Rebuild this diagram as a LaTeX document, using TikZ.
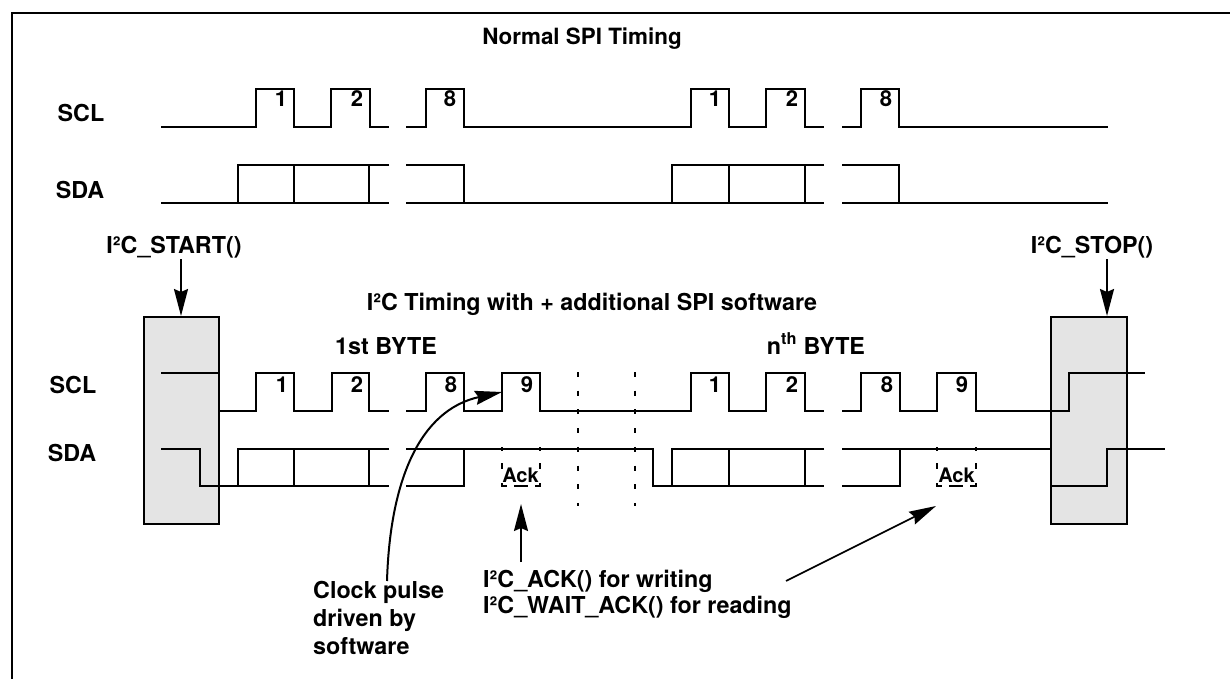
\documentclass[tikz,border=0pt]{standalone}
\usepackage{fontspec}
\setmainfont{TeX Gyre Heros}
\usetikzlibrary{arrows.meta}
\definecolor{boxgray}{HTML}{E4E4E4}
\tikzset{
  sig/.style={line width=2pt,line join=miter,line cap=butt},
  tick/.style={line width=2pt,line cap=square},
  frameline/.style={line width=2.4pt,line join=miter},
  dashv/.style={line width=2pt,dash pattern=on 5pt off 13.7pt},
  ackv/.style={line width=2pt,dash pattern=on 4pt off 12pt on 6pt off 14pt on 4pt},
  ackh/.style={line width=2pt,dash pattern=on 5pt off 7pt on 14pt off 7pt on 5pt},
  gbox/.style={draw,fill=boxgray,line width=2pt,inner sep=0pt,minimum width=75pt,minimum height=207pt,anchor=north west},
  arr/.style={line width=2pt,-{Stealth[length=27pt,width=14pt,inset=3pt]}},
  lab/.style={font=\fontsize{23.3}{27}\selectfont\bfseries,inner sep=0pt,anchor=base},
  labl/.style={lab,anchor=base west},
  dig/.style={font=\fontsize{22}{25}\selectfont\bfseries,inner sep=0pt,anchor=base},
  acklab/.style={font=\fontsize{20}{23}\selectfont\bfseries,inner sep=0pt,anchor=base},
}
\begin{document}
\begin{tikzpicture}[x=1pt,y=-1pt]
\useasboundingbox (0,0) rectangle (1230,679);
\fill[white] (0,0) rectangle (1230,679);
% frame
\coordinate (fr) at (1230,13); \coordinate (fc) at (12,13); \coordinate (fb) at (12,679);
\draw[frameline] (fr) -- (fc) -- (fb);
% grey boxes
\node[gbox] (startbox) at (143,316) {};
\node[gbox,minimum width=76pt] (stopbox) at (1050,316) {};
% titles and labels
\node[lab,font=\fontsize{22.4}{26}\selectfont\bfseries] (t1) at (582,44.5) {Normal SPI Timing};
\node[lab] (sclA) at (81,121.5) {SCL};
\node[lab] (sdaA) at (80,198) {SDA};
\node[lab] (start) at (174,253) {I²C\_START()};
\node[lab] (stop) at (1092,253) {I²C\_STOP()};
\node[lab] (t2) at (592,310.5) {I²C Timing with + additional SPI software};
\node[lab] (b1) at (386,354) {1st BYTE};
\node[lab] (bn) at (816,354) {n\textsuperscript{th} BYTE};
\node[lab] (sclB) at (73,393) {SCL};
\node[lab] (sdaB) at (72,461.5) {SDA};
\node[labl] (ackl) at (483,587.7) {I²C\_ACK() for writing};
\node[labl] (waitl) at (483,613.3) {I²C\_WAIT\_ACK() for reading};
\node[labl] (c1) at (313,598) {Clock pulse};
\node[labl] (c2) at (313,626) {driven by};
\node[labl] (c3) at (313,654) {software};
% digits, top
\foreach \n/\x/\t in {a1/281/1,a2/357/2,a3/450/8,a4/715/1,a5/792/2,a6/886/8}
  \node[dig] (\n) at (\x,107) {\t};
% digits, bottom
\foreach \n/\x/\t in {d1/282/1,d2/357/2,d3/451/8,d4/527/9,d5/715/1,d6/792/2,d7/887/8,d8/962/9}
  \node[dig] (\n) at (\x,392) {\t};
\node[acklab] (ack1) at (520.5,482.5) {Ack};
\node[acklab] (ack2) at (956.5,482.5) {Ack};
% top SCL
\draw[sig] (161,127) -- (256,127) -- (256,89) -- (294,89) -- (294,127) -- (331,127) -- (331,89) -- (370,89) -- (370,127) -- (389,127);
\draw[sig] (406,127) -- (426,127) -- (426,89) -- (464,89) -- (464,127) -- (691,127) -- (691,89) -- (729,89) -- (729,127) -- (766,127) -- (766,89) -- (805,89) -- (805,127) -- (824,127);
\draw[sig] (842,127) -- (861,127) -- (861,89) -- (899,89) -- (899,127) -- (1108,127);
% top SDA
\draw[sig] (161,203) -- (389,203);
\draw[sig] (389,165) -- (238,165) -- (238,203);
\draw[sig] (406,203) -- (824,203);
\draw[sig] (406,165) -- (464,165) -- (464,203);
\draw[sig] (824,165) -- (672,165) -- (672,203);
\draw[sig] (842,203) -- (1108,203);
\draw[sig] (842,165) -- (899,165) -- (899,203);
\foreach \x in {294,369,729,805} \draw[sig] (\x,165) -- (\x,203);
% bottom SCL
\draw[sig] (161,373) -- (219,373);
\draw[sig] (218,411) -- (256,411) -- (256,373) -- (294,373) -- (294,411) -- (332,411) -- (332,373) -- (369,373) -- (369,411) -- (389,411);
\draw[sig] (406,411) -- (426,411) -- (426,373) -- (464,373) -- (464,411) -- (502,411) -- (502,373) -- (540,373) -- (540,411) -- (691,411) -- (691,373) -- (729,373) -- (729,411) -- (766,411) -- (766,373) -- (805,373) -- (805,411) -- (824,411);
\draw[sig] (842,411) -- (861,411) -- (861,373) -- (900,373) -- (900,411) -- (937,411) -- (937,373) -- (976,373) -- (976,411) -- (1069,411) -- (1069,373) -- (1145,373);
% bottom SDA
\draw[sig] (161,449) -- (200,449) -- (200,486) -- (389,486);
\draw[sig] (389,449) -- (238,449) -- (238,486);
\draw[sig] (406,486) -- (464,486) -- (464,449);
\draw[sig] (406,449) -- (653,449) -- (653,486) -- (824,486);
\draw[sig] (824,449) -- (672,449) -- (672,486);
\draw[sig] (842,449) -- (1050,449);
\draw[sig] (842,486) -- (900,486) -- (900,449);
\draw[sig] (1050,486) -- (1107,486) -- (1107,449) -- (1165,449);
\foreach \x in {294,369,729,805} \draw[tick] (\x,449) -- (\x,486);
% dashed guides
\foreach \x in {578,635} \draw[dashv] (\x,372) -- (\x,506);
\foreach \x/\xb in {502/540,937/976} {
  \draw[ackv] (\x,447) -- (\x,487);
  \draw[ackv] (\xb,447) -- (\xb,487);
  \draw[ackh] (\x,486) -- (\xb,486);
}
% arrows
\coordinate (sa) at (181,259);
\coordinate (pa) at (1107,259);
\coordinate (ackt) at (521,504);
\coordinate (ackb) at (521,562);
\coordinate (lstart) at (786,581);
\coordinate (lend) at (936,506);
\coordinate (cs) at (387,581);
\coordinate (ce) at (502,392);
\draw[arr] (sa) -- (sa |- startbox.north);
\draw[arr] (pa) -- (pa |- stopbox.north);
\draw[arr] (ackb) -- (ackt);
\draw[arr,line width=1.6pt] (lstart) -- (lend);
\draw[arr] (cs) .. controls (390,480) and (420,410) .. (ce);
\end{tikzpicture}
\end{document}
